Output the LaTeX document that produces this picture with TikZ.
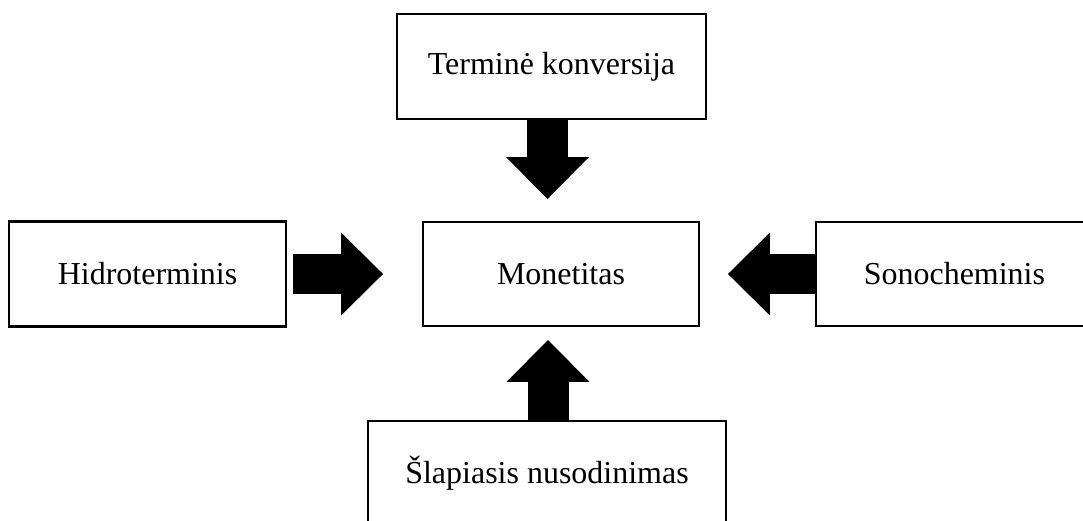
\documentclass[tikz,border=0pt]{standalone}
\usepackage{fontspec}
\setmainfont{Liberation Serif}
\usetikzlibrary{arrows.meta,positioning}
\tikzset{
  box/.style={draw=black,line width=1.5pt,fill=white,align=center,font=\fontsize{18.2}{22}\selectfont,inner sep=0pt,outer sep=0pt,minimum height=2.08cm,minimum width=5.54cm},
  blockarrow/.style={-{Triangle[width=1.66cm,length=0.84cm,line width=0pt]},line width=0.82cm,draw=black}
}

\begin{document}
\begin{tikzpicture}[x=0.02cm,y=0.02cm]
  \useasboundingbox (0,0) rectangle (1083,-521);
  \clip (0,0) rectangle (1083,-521);
  \node[box,minimum width=5.52cm] (mon) at (561,-274) {Monetitas};
  \node[box,above=2.06cm of mon,xshift=-0.19cm,minimum width=6.18cm,minimum height=2.1cm] (term) {Terminė konversija};
  \node[box,left=2.74cm of mon,minimum height=2.1cm] (hidro) {Hidroterminis};
  \node[box,right=2.34cm of mon] (sono) {Sonocheminis};
  \node[box,below=1.9cm of mon,xshift=-0.28cm,minimum width=7.16cm] (slap) {Šlapiasis nusodinimas};
  \draw[blockarrow,shorten >=0.46cm] ([xshift=-0.08cm]term.south) -- ([xshift=-0.08cm]term.south |- mon.north);
  \draw[blockarrow,shorten <=0.14cm,shorten >=0.8cm] (hidro.east) -- (hidro.east -| mon.west);
  \draw[blockarrow,shorten >=0.58cm] (sono.west) -- (sono.west -| mon.east);
  \draw[blockarrow,shorten >=0.28cm] ([xshift=0.02cm]slap.north) -- ([xshift=0.02cm]slap.north |- mon.south);
\end{tikzpicture}
\end{document}
